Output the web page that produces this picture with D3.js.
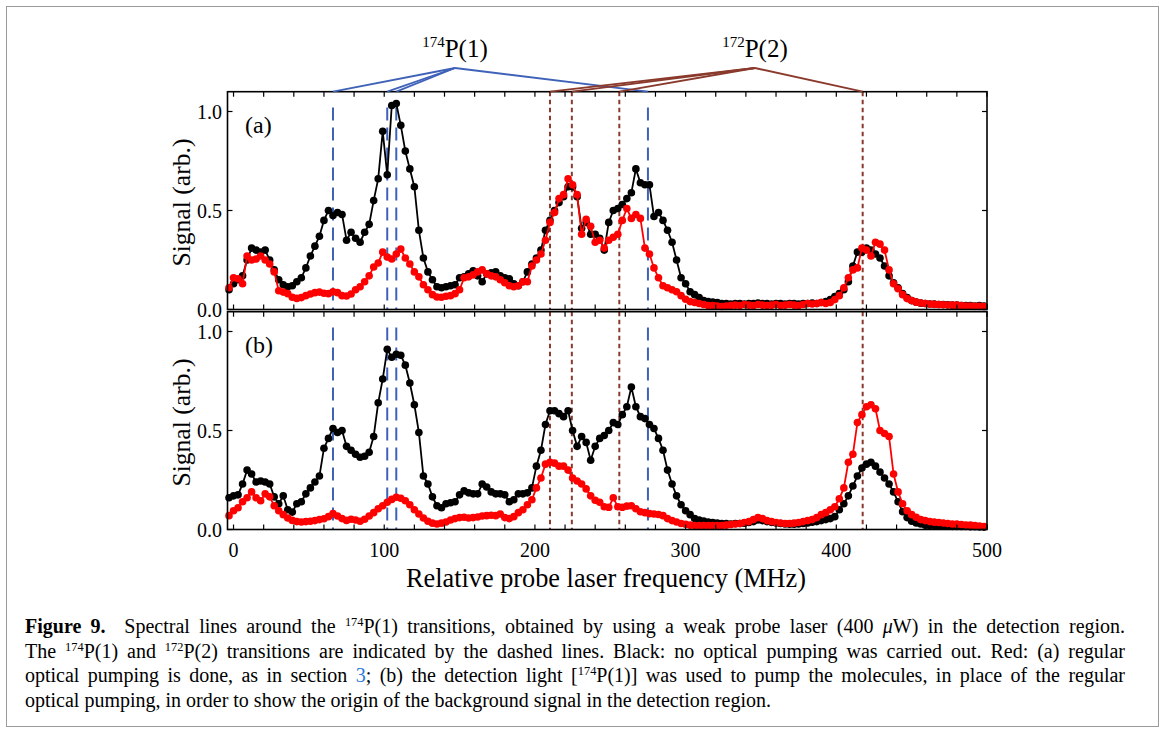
<!DOCTYPE html>
<html><head><meta charset="utf-8">
<script src="https://cdn.jsdelivr.net/npm/d3@7"></script>
<style>
body{margin:0;background:#fff}
svg{display:block}
text{font-family:'Liberation Serif','Times New Roman',serif;fill:#000}
</style>
</head><body>
<svg id="c" width="1165" height="733"></svg>
<script>
// ---------- DATA ----------
const freq = [-3,0,3,6,9,12,15,18,21,24,
27,30,33,36,39,42,45,48,51,54,
57,60,63,66,69,72,75,78,81,84,
87,90,93,96,99,102,105,108,111,114,
117,120,123,126,129,132,135,138,141,144,
147,150,153,156,159,162,165,168,171,174,
177,180,183,186,189,192,195,198,201,204,
207,210,213,216,219,222,225,228,231,234,
237,240,243,246,249,252,255,258,261,264,
267,270,273,276,279,282,285,288,291,294,
297,300,303,306,309,312,315,318,321,324,
327,330,333,336,339,342,345,348,351,354,
357,360,363,366,369,372,375,378,381,384,
387,390,393,396,399,402,405,408,411,414,
417,420,423,426,429,432,435,438,441,444,
447,450,453,456,459,462,465,468,471,474,
477,480,483,486,489,492,495,498];

// panel (a): black = no optical pumping, red = regular optical pumping
const blackA = [0.10,0.13,0.15,0.17,0.25,0.31,0.30,0.29,0.30,0.25,
0.20,0.15,0.125,0.115,0.12,0.14,0.16,0.21,0.27,0.32,
0.37,0.45,0.50,0.475,0.49,0.48,0.35,0.39,0.36,0.34,
0.39,0.43,0.55,0.66,0.90,0.68,1.03,1.04,0.93,0.80,
0.71,0.62,0.40,0.26,0.19,0.15,0.115,0.11,0.115,0.12,
0.125,0.16,0.165,0.18,0.195,0.17,0.14,0.18,0.185,0.19,
0.17,0.16,0.155,0.13,0.12,0.14,0.19,0.23,0.26,0.30,
0.40,0.45,0.50,0.54,0.57,0.62,0.62,0.57,0.41,0.44,
0.38,0.38,0.36,0.30,0.44,0.50,0.51,0.53,0.56,0.59,
0.71,0.64,0.63,0.63,0.47,0.49,0.45,0.40,0.34,0.25,
0.16,0.13,0.09,0.075,0.06,0.045,0.04,0.037,0.035,0.03,
0.03,0.028,0.03,0.03,0.028,0.03,0.03,0.032,0.03,0.03,
0.028,0.03,0.03,0.028,0.03,0.03,0.028,0.03,0.03,0.032,
0.03,0.035,0.04,0.05,0.065,0.08,0.10,0.14,0.22,0.29,
0.29,0.31,0.30,0.28,0.26,0.22,0.17,0.135,0.11,0.08,
0.06,0.045,0.037,0.032,0.03,0.028,0.027,0.025,0.025,0.024,
0.022,0.022,0.02,0.02,0.02,0.018,0.02,0.018];

const redA = [0.11,0.16,0.155,0.13,0.27,0.25,0.255,0.27,0.25,0.23,
0.19,0.095,0.088,0.08,0.062,0.056,0.06,0.07,0.078,0.085,
0.088,0.082,0.08,0.09,0.085,0.07,0.068,0.078,0.10,0.115,
0.14,0.17,0.215,0.235,0.29,0.265,0.255,0.28,0.305,0.26,
0.23,0.19,0.165,0.125,0.10,0.075,0.063,0.062,0.067,0.07,
0.08,0.10,0.16,0.165,0.175,0.19,0.20,0.18,0.17,0.165,
0.15,0.135,0.12,0.115,0.12,0.14,0.14,0.22,0.25,0.28,
0.35,0.44,0.49,0.56,0.58,0.66,0.63,0.58,0.38,0.455,
0.42,0.34,0.35,0.31,0.35,0.365,0.38,0.45,0.51,0.46,
0.48,0.46,0.31,0.28,0.21,0.16,0.12,0.11,0.10,0.09,
0.07,0.052,0.04,0.035,0.03,0.025,0.02,0.02,0.018,0.015,
0.018,0.02,0.022,0.02,0.025,0.022,0.02,0.025,0.022,0.02,
0.022,0.025,0.02,0.022,0.025,0.022,0.02,0.025,0.03,0.028,
0.03,0.035,0.03,0.035,0.05,0.07,0.11,0.16,0.20,0.21,
0.31,0.30,0.27,0.34,0.33,0.30,0.20,0.13,0.105,0.075,
0.055,0.045,0.037,0.033,0.03,0.028,0.026,0.025,0.024,0.023,
0.022,0.022,0.02,0.018,0.018,0.016,0.016,0.015];

// panel (b): black = no optical pumping, red = detection light used to pump
const blackB = [0.16,0.17,0.175,0.23,0.30,0.28,0.24,0.245,0.24,0.23,
0.165,0.13,0.17,0.10,0.088,0.13,0.14,0.18,0.21,0.24,
0.27,0.41,0.46,0.51,0.49,0.50,0.42,0.40,0.38,0.365,
0.37,0.39,0.47,0.64,0.76,0.91,0.87,0.885,0.88,0.83,
0.74,0.63,0.49,0.27,0.23,0.165,0.12,0.11,0.13,0.135,
0.14,0.175,0.195,0.185,0.18,0.18,0.23,0.215,0.19,0.18,
0.18,0.175,0.14,0.15,0.18,0.18,0.185,0.21,0.32,0.40,
0.53,0.60,0.60,0.585,0.57,0.60,0.50,0.42,0.47,0.44,
0.35,0.42,0.46,0.475,0.50,0.54,0.53,0.58,0.62,0.72,
0.62,0.57,0.56,0.53,0.51,0.46,0.40,0.30,0.23,0.17,
0.125,0.095,0.075,0.055,0.048,0.043,0.038,0.035,0.032,0.03,
0.03,0.028,0.03,0.03,0.032,0.035,0.04,0.048,0.045,0.04,
0.036,0.033,0.03,0.028,0.027,0.027,0.028,0.03,0.033,0.037,
0.04,0.045,0.05,0.055,0.065,0.10,0.13,0.17,0.22,0.27,
0.31,0.33,0.34,0.32,0.29,0.26,0.23,0.19,0.14,0.09,
0.06,0.042,0.033,0.028,0.022,0.02,0.02,0.018,0.018,0.017,
0.016,0.016,0.015,0.015,0.014,0.014,0.013,0.012];

const redB = [0.07,0.095,0.11,0.14,0.16,0.19,0.16,0.145,0.18,0.165,
0.12,0.095,0.075,0.058,0.046,0.04,0.038,0.04,0.042,0.045,
0.05,0.054,0.065,0.08,0.068,0.055,0.046,0.052,0.048,0.042,
0.052,0.068,0.085,0.105,0.12,0.138,0.152,0.163,0.158,0.145,
0.125,0.10,0.078,0.058,0.042,0.032,0.028,0.032,0.038,0.048,
0.055,0.06,0.062,0.058,0.06,0.063,0.068,0.07,0.072,0.07,
0.078,0.06,0.055,0.065,0.085,0.10,0.125,0.15,0.21,0.26,
0.33,0.34,0.335,0.32,0.32,0.30,0.26,0.245,0.23,0.205,
0.17,0.148,0.138,0.115,0.112,0.16,0.115,0.112,0.118,0.12,
0.105,0.09,0.085,0.08,0.078,0.076,0.07,0.055,0.045,0.038,
0.03,0.026,0.022,0.02,0.02,0.02,0.02,0.02,0.02,0.02,
0.022,0.025,0.028,0.03,0.035,0.04,0.05,0.06,0.055,0.045,
0.04,0.035,0.033,0.03,0.03,0.032,0.035,0.04,0.045,0.05,
0.06,0.075,0.085,0.10,0.115,0.155,0.21,0.34,0.38,0.54,
0.58,0.62,0.63,0.61,0.50,0.485,0.47,0.28,0.19,0.13,
0.095,0.075,0.062,0.05,0.045,0.04,0.037,0.035,0.033,0.03,
0.028,0.027,0.025,0.023,0.022,0.02,0.018,0.015];

// transition frequencies (MHz)
const p174 = [66, 102, 108, 275];
const p172 = [210, 224.5, 256, 417.5];

const xTickVals = [0,20,40,60,80,100,120,140,160,180,200,220,240,260,280,300,320,340,360,380,400,420,440,460,480,500];
const xTickLabels = [0,100,200,300,400,500];
const yTickVals = [0, 0.5, 1.0];
const panelNames = ["(a)", "(b)"];
const yTitle = "Signal (arb.)";
const xTitle = "Relative probe laser frequency (MHz)";

// ---------- LAYOUT ----------
const svg = d3.select("#c");
const BLUE = "#3f62b8", BROWN = "#8a3a2c";
const x = d3.scaleLinear().domain([-4, 500]).range([227.5, 987]);
const panels = [
  {name: panelNames[0], black: blackA, red: redA, y0: 309.5, showX: false},
  {name: panelNames[1], black: blackB, red: redB, y0: 529.5, showX: true}
];
const H = 198; // px per signal unit
const yMax = 1.1;

// outer border
svg.append("rect").attr("x",6.5).attr("y",6.5).attr("width",1152).attr("height",720)
  .attr("fill","none").attr("stroke","#9a9a9a").attr("stroke-width",1);

function fitWidth(sel, target){
  const w = sel.node().getComputedTextLength();
  const fs = parseFloat(sel.attr("font-size"));
  sel.attr("font-size", (fs*target/w).toFixed(2));
}

panels.forEach((p,pi) => {
  const y = d3.scaleLinear().domain([0, yMax]).range([p.y0, p.y0 - yMax*H]);
  p.y = y;
  const g = svg.append("g");
  const top = y(yMax), bot = y(0);

  // dashed transition lines
  g.selectAll(".b174").data(p174).join("line")
    .attr("x1", d=>x(d)).attr("x2", d=>x(d)).attr("y1", y(1.02)).attr("y2", bot)
    .attr("stroke", BLUE).attr("stroke-width", 2).attr("stroke-dasharray","13,7");
  g.selectAll(".b172").data(p172).join("line")
    .attr("x1", d=>x(d)).attr("x2", d=>x(d)).attr("y1", top).attr("y2", bot)
    .attr("stroke", BROWN).attr("stroke-width", 2).attr("stroke-dasharray","4.5,3.5");

  // series
  const series = [{v:p.black, c:"#000"}, {v:p.red, c:"#ff0000"}];
  series.forEach(s => {
    const pts = freq.map((f,i)=>[f, s.v[i]]).filter(d=>d[1]!==undefined);
    g.append("path").datum(pts)
      .attr("d", d3.line().x(d=>x(d[0])).y(d=>y(d[1])))
      .attr("fill","none").attr("stroke", s.c).attr("stroke-width",1.8);
    g.append("g").selectAll("circle").data(pts).join("circle")
      .attr("cx", d=>x(d[0])).attr("cy", d=>y(d[1])).attr("r",3.8).attr("fill", s.c);
  });

  // frame
  g.append("rect").attr("x", x(-4)).attr("y", top).attr("width", x(500)-x(-4)).attr("height", bot-top)
    .attr("fill","none").attr("stroke","#000").attr("stroke-width",1.6);

  // ticks (inward)
  const tl = 5;
  xTickVals.forEach(t => {
    g.append("line").attr("x1",x(t)).attr("x2",x(t)).attr("y1",bot).attr("y2",bot-tl).attr("stroke","#000").attr("stroke-width",1.2);
    g.append("line").attr("x1",x(t)).attr("x2",x(t)).attr("y1",top).attr("y2",top+tl).attr("stroke","#000").attr("stroke-width",1.2);
  });
  yTickVals.forEach(t => {
    g.append("line").attr("x1",x(-4)).attr("x2",x(-4)+tl).attr("y1",y(t)).attr("y2",y(t)).attr("stroke","#000").attr("stroke-width",1.2);
    g.append("line").attr("x1",x(500)).attr("x2",x(500)-tl).attr("y1",y(t)).attr("y2",y(t)).attr("stroke","#000").attr("stroke-width",1.2);
    g.append("text").attr("x", 222).attr("y", y(t)).attr("dy","0.35em").attr("text-anchor","end")
      .attr("font-size",20).text(t.toFixed(1));
  });
  if (p.showX){
    xTickLabels.forEach(t => {
      g.append("text").attr("x", x(t)).attr("y", bot+27).attr("text-anchor","middle")
        .attr("font-size",20).text(t);
    });
  }
  // panel label
  g.append("text").attr("x", 245).attr("y", y(1.0)+21).attr("font-size",24).text(p.name);
  // y title
  const yc = (top+bot)/2 + 2;
  const yt = g.append("text").attr("transform",`translate(190,${yc}) rotate(-90)`)
    .attr("text-anchor","middle").attr("font-size",22).text(yTitle);
  fitWidth(yt, 128);
});

// x title
const xt = svg.append("text").attr("x", 606).attr("y", 587).attr("text-anchor","middle")
  .attr("font-size",22).text(xTitle);
fitWidth(xt, 400);

// transition annotations
const topA = panels[0].y(yMax);
const apexY = 68;
const apex174 = 455, apex172 = 755;
svg.selectAll(".a174").data(p174).join("line")
  .attr("x1", apex174).attr("y1", apexY).attr("x2", d=>x(d)).attr("y2", topA)
  .attr("stroke", BLUE).attr("stroke-width", 1.8);
svg.selectAll(".a172").data(p172).join("line")
  .attr("x1", apex172).attr("y1", apexY).attr("x2", d=>x(d)).attr("y2", topA)
  .attr("stroke", BROWN).attr("stroke-width", 1.8);

function isoLabel(cx, mass, rest){
  const t = svg.append("text").attr("x", cx).attr("y", 57).attr("text-anchor","middle").attr("font-size",25);
  t.append("tspan").attr("font-size",15).attr("dy",-10).text(mass);
  t.append("tspan").attr("dy",10).text(rest);
}
isoLabel(455, "174", "P(1)");
isoLabel(755, "172", "P(2)");

// ---------- CAPTION ----------
const capLines = [
  [{t:"Figure 9.", b:true},{t:"  Spectral lines around the "},{t:"174",s:true},{t:"P(1) transitions, obtained by using a weak probe laser (400 "},{t:"μ",i:true},{t:"W) in the detection region."}],
  [{t:"The "},{t:"174",s:true},{t:"P(1) and "},{t:"172",s:true},{t:"P(2) transitions are indicated by the dashed lines. Black: no optical pumping was carried out. Red: (a) regular"}],
  [{t:"optical pumping is done, as in section "},{t:"3",c:"#2b7bd6"},{t:"; (b) the detection light ["},{t:"174",s:true},{t:"P(1)] was used to pump the molecules, in place of the regular"}],
  [{t:"optical pumping, in order to show the origin of the background signal in the detection region."}]
];
const capBase = [633, 657.5, 682, 706.5];
// determine font size from the natural (unjustified) last line
const probe = svg.append("text").attr("font-size",18).text(capLines[3][0].t);
const capFs = Math.min(20, 18*777/probe.node().getComputedTextLength());
probe.remove();
capLines.forEach((segs, li) => {
  const t = svg.append("text").attr("x", 25).attr("y", capBase[li]).attr("font-size",capFs)
    .attr("xml:space","preserve").style("white-space","pre");
  let prevSup = false;
  segs.forEach(s => {
    const ts = t.append("tspan").text(s.t);
    if (s.b) ts.attr("font-weight","bold");
    if (s.i) ts.attr("font-style","italic");
    if (s.c) ts.style("fill", s.c);
    if (s.s){ ts.attr("font-size",capFs*0.62).attr("dy",-7); prevSup = true; }
    else if (prevSup){ ts.attr("dy",7); prevSup = false; }
  });
  if (li < 3){
    const w = t.node().getComputedTextLength();
    const txt = segs.map(s=>s.t).join("");
    const nsp = (txt.match(/ /g)||[]).length;
    const extra = (1100 - w)/nsp;
    t.attr("word-spacing", extra.toFixed(2));
  }
});
</script>
</body></html>
